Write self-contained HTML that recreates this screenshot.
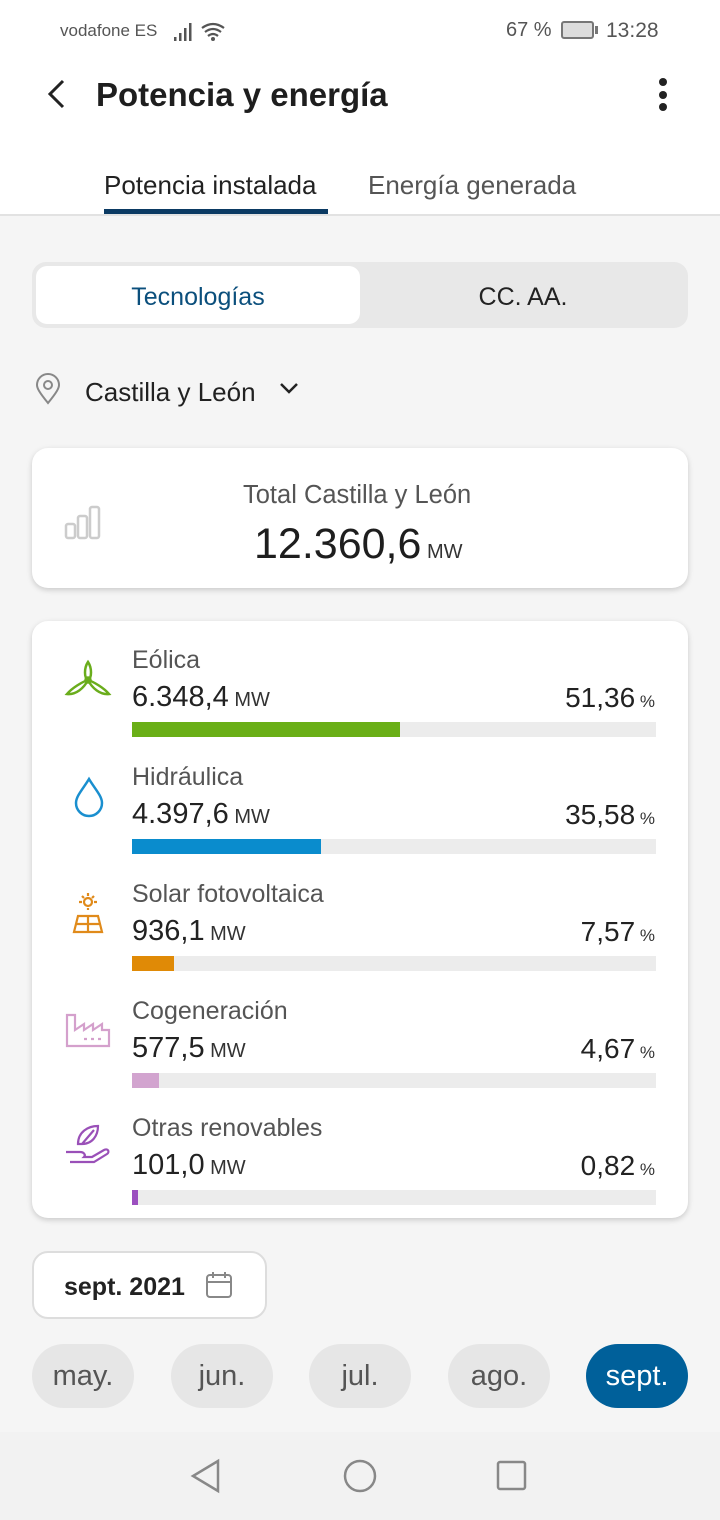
<!DOCTYPE html>
<html><head><meta charset="utf-8"><style>
*{margin:0;padding:0;box-sizing:border-box}
body{width:720px;height:1520px;background:#f5f5f5;font-family:"Liberation Sans",sans-serif;color:#222;position:relative;overflow:hidden}
.a{position:absolute;white-space:nowrap}
.card{position:absolute;background:#fff;border-radius:16px;box-shadow:0 2px 6px rgba(0,0,0,.18)}
.lbl{font-size:25px;color:#555}
.val{font-size:29px;color:#222}
.val small{font-size:20px;color:#333}
.pct{font-size:28px;color:#222;right:0}
.pct small{font-size:17px;color:#333}
.bar{position:absolute;left:132px;width:524px;height:15px;background:#ececec}
.bar i{display:block;height:15px}
.pill{position:absolute;top:1344px;width:102px;height:64px;border-radius:32px;background:#e6e6e6;color:#555;font-size:29px;text-align:center;line-height:64px}
</style></head><body>
<div class="a" style="top:0;left:0;width:720px;height:215px;background:#fff"></div>
<div class="a" style="top:214px;left:0;width:720px;height:2px;background:#e2e2e2"></div>
<div class="a" style="left:60px;top:21px;font-size:17px;color:#555">vodafone ES</div>
<svg class="a" style="left:174px;top:22px" width="56" height="20"><rect x="0" y="15" width="2.5" height="4" fill="#555"/><rect x="5" y="11" width="2.5" height="8" fill="#555"/><rect x="10" y="6" width="2.5" height="13" fill="#555"/><rect x="15" y="1" width="2.5" height="18" fill="#555"/><path d="M28 6 Q39 -2 50 6 M31 10 Q39 4 47 10 M34 14 Q39 10 44 14" stroke="#555" stroke-width="2.2" fill="none"/><circle cx="39" cy="17" r="2" fill="#555"/></svg>
<div class="a" style="left:506px;top:19px;font-size:20px;color:#555">67 %</div>
<div class="a" style="left:561px;top:21px;width:33px;height:18px;border:2px solid #777;border-radius:3px;background:#ddd"></div>
<div class="a" style="left:595px;top:26px;width:3px;height:8px;background:#777"></div>
<div class="a" style="left:606px;top:19px;font-size:21px;color:#555">13:28</div>
<svg class="a" style="left:44px;top:78px" width="24" height="32"><path d="M19 3 L6 16 L19 29" stroke="#222" stroke-width="3" fill="none"/></svg>
<div class="a" style="left:96px;top:76px;font-size:33px;font-weight:bold;color:#1e1e1e">Potencia y energía</div>
<div class="a" style="left:659px;top:78px;width:8px;height:8px;border-radius:4px;background:#222"></div>
<div class="a" style="left:659px;top:91px;width:8px;height:8px;border-radius:4px;background:#222"></div>
<div class="a" style="left:659px;top:103px;width:8px;height:8px;border-radius:4px;background:#222"></div>
<div class="a" style="left:104px;top:170px;font-size:26px;color:#222">Potencia instalada</div>
<div class="a" style="left:368px;top:170px;font-size:26px;color:#555">Energía generada</div>
<div class="a" style="left:104px;top:209px;width:224px;height:5px;background:#0b3a63"></div>

<div class="a" style="left:32px;top:262px;width:656px;height:66px;border-radius:14px;background:#e8e8e8"></div>
<div class="a" style="left:36px;top:266px;width:324px;height:58px;border-radius:11px;background:#fff;text-align:center;line-height:62px;font-size:25px;color:#0b4f7c">Tecnologías</div>
<div class="a" style="left:362px;top:266px;width:322px;height:58px;text-align:center;line-height:62px;font-size:25px;color:#222">CC. AA.</div>

<svg class="a" style="left:34px;top:373px" width="28" height="32"><path d="M14 30 C5 19 3 15 3 12 A11 11 0 0 1 25 12 C25 15 23 19 14 30Z" stroke="#888" stroke-width="2" fill="none"/><circle cx="14" cy="12" r="4" stroke="#888" stroke-width="2" fill="none"/></svg>
<div class="a" style="left:85px;top:377px;font-size:26px;color:#222">Castilla y León</div>
<svg class="a" style="left:278px;top:381px" width="22" height="16"><path d="M3 3 L11 11 L19 3" stroke="#222" stroke-width="2.5" fill="none"/></svg>

<div class="card" style="left:32px;top:448px;width:656px;height:140px"></div>
<svg class="a" style="left:64px;top:504px" width="40" height="36"><rect x="2" y="20" width="9" height="14" rx="2" stroke="#ccc" stroke-width="2.5" fill="none"/><rect x="14" y="12" width="9" height="22" rx="2" stroke="#ccc" stroke-width="2.5" fill="none"/><rect x="26" y="3" width="9" height="31" rx="2" stroke="#ccc" stroke-width="2.5" fill="none"/></svg>
<div class="a" style="left:243px;top:481px;font-size:25.5px;color:#555">Total Castilla y León</div>
<div class="a" style="left:254px;top:520px;font-size:43px;color:#1e1e1e">12.360,6<span style="font-size:20px;color:#333"> MW</span></div>

<div class="card" style="left:32px;top:621px;width:656px;height:597px"></div>

<svg class="a" style="left:64px;top:658px" width="48" height="44"><g stroke="#6aad1c" stroke-width="2.5" fill="none"><path d="M24 4 C20 10 20 20 24 22 C28 20 28 10 24 4Z"/><path d="M24 22 C18 24 8 30 3 36 C12 37 20 30 24 22Z"/><path d="M24 22 C30 24 40 30 45 36 C36 37 28 30 24 22Z"/><circle cx="24" cy="22" r="2.5"/></g></svg>
<div class="a lbl" style="left:132px;top:646px">Eólica</div>
<div class="a val" style="left:132px;top:681px">6.348,4<small> MW</small></div>
<div class="a pct" style="right:65px;top:682px">51,36<small> %</small></div>
<div class="bar" style="top:722px"><i style="width:268px;background:#6aaf17"></i></div>

<svg class="a" style="left:72px;top:776px" width="34" height="42"><path d="M17 3 C11 13 4 20 4 27 A13 13 0 0 0 30 27 C30 20 23 13 17 3Z" stroke="#1a8fcf" stroke-width="2.5" fill="none"/></svg>
<div class="a lbl" style="left:132px;top:763px">Hidráulica</div>
<div class="a val" style="left:132px;top:798px">4.397,6<small> MW</small></div>
<div class="a pct" style="right:65px;top:799px">35,58<small> %</small></div>
<div class="bar" style="top:839px"><i style="width:189px;background:#0a8ccd"></i></div>

<svg class="a" style="left:66px;top:892px" width="44" height="44"><g stroke="#e08a1a" stroke-width="2.2" fill="none"><circle cx="22" cy="10" r="4"/><path d="M22 1v3M22 16v2M13 10h3M28 10h3M16 4l2 2M28 4l-2 2"/><path d="M8 40 L12 24 H32 L36 40Z M10 32 H34 M22 24 V40"/></g></svg>
<div class="a lbl" style="left:132px;top:880px">Solar fotovoltaica</div>
<div class="a val" style="left:132px;top:915px">936,1<small> MW</small></div>
<div class="a pct" style="right:65px;top:916px">7,57<small> %</small></div>
<div class="bar" style="top:956px"><i style="width:42px;background:#e08a06"></i></div>

<svg class="a" style="left:64px;top:1012px" width="48" height="36"><g stroke="#d4a0cc" stroke-width="2.2" fill="none"><path d="M3 34 V3 H11 V18 L20 12 V18 L29 12 V18 L38 12 V18 H45 V34Z"/><path d="M20 27h3M27 27h3M34 27h3"/></g></svg>
<div class="a lbl" style="left:132px;top:997px">Cogeneración</div>
<div class="a val" style="left:132px;top:1032px">577,5<small> MW</small></div>
<div class="a pct" style="right:65px;top:1033px">4,67<small> %</small></div>
<div class="bar" style="top:1073px"><i style="width:27px;background:#d2a4cf"></i></div>

<svg class="a" style="left:64px;top:1122px" width="48" height="44"><g stroke="#9a50b8" stroke-width="2.2" fill="none"><path d="M14 22 C14 10 24 4 34 4 C34 14 28 22 18 22Z M18 22 L30 8"/><path d="M2 30 H16 C20 30 22 33 20 35 H28 L40 28 C44 26 46 30 43 32 L30 40 H6"/></g></svg>
<div class="a lbl" style="left:132px;top:1114px">Otras renovables</div>
<div class="a val" style="left:132px;top:1149px">101,0<small> MW</small></div>
<div class="a pct" style="right:65px;top:1150px">0,82<small> %</small></div>
<div class="bar" style="top:1190px"><i style="width:6px;background:#9b4fbf"></i></div>

<div class="a" style="left:32px;top:1251px;width:235px;height:68px;border:2px solid #ddd;border-radius:16px;background:#fff"></div>
<div class="a" style="left:64px;top:1273px;font-size:25px;font-weight:bold;color:#222">sept. 2021</div>
<svg class="a" style="left:205px;top:1270px" width="28" height="30"><rect x="2" y="5" width="24" height="22" rx="3" stroke="#888" stroke-width="2" fill="none"/><path d="M2 12H26M8 2v6M20 2v6" stroke="#888" stroke-width="2"/></svg>

<div class="pill" style="left:32px">may.</div>
<div class="pill" style="left:171px">jun.</div>
<div class="pill" style="left:309px">jul.</div>
<div class="pill" style="left:448px">ago.</div>
<div class="pill" style="left:586px;background:#00609a;color:#fff">sept.</div>

<div class="a" style="left:0;top:1432px;width:720px;height:88px;background:#f2f2f2"></div>
<svg class="a" style="left:188px;top:1458px" width="36" height="36"><path d="M30 3 L5 18 L30 33Z" stroke="#888" stroke-width="2.5" fill="none"/></svg>
<svg class="a" style="left:342px;top:1458px" width="36" height="36"><circle cx="18" cy="18" r="15" stroke="#888" stroke-width="2.5" fill="none"/></svg>
<svg class="a" style="left:496px;top:1460px" width="32" height="32"><rect x="2" y="2" width="27" height="27" rx="2" stroke="#888" stroke-width="2.5" fill="none"/></svg>
</body></html>
